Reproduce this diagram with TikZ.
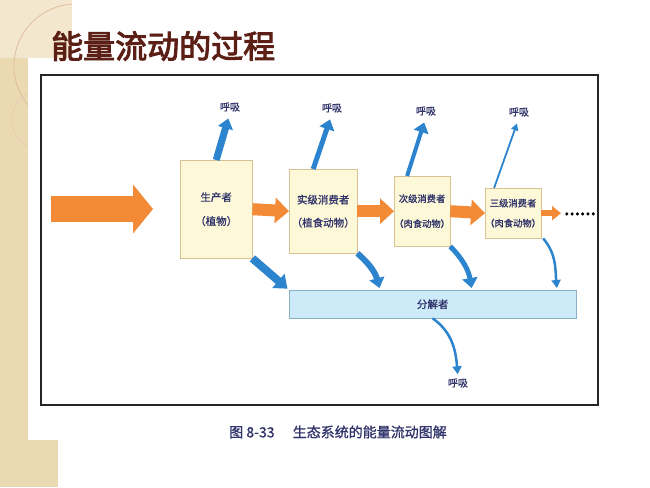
\documentclass[tikz,border=0pt]{standalone}
\usepackage{fontspec}
\setmainfont{Noto Sans CJK SC}
\newfontfamily\cjkbold[FakeBold=3]{Noto Sans CJK SC}
\newfontfamily\cjkmed[FakeBold=1]{Noto Sans CJK SC}
\usetikzlibrary{arrows.meta}
\definecolor{flowOrange}{HTML}{F28A36}
\definecolor{respBlue}{HTML}{2C84CF}
\definecolor{boxFill}{HTML}{FDF8D8}
\definecolor{boxLine}{HTML}{D8C293}
\definecolor{decoFill}{HTML}{CDEAF8}
\definecolor{decoLine}{HTML}{8AAFC6}
\definecolor{inkBlue}{HTML}{30336A}
\definecolor{titleBrown}{HTML}{5B1F16}
\definecolor{slideBeige}{HTML}{EBD9B2}
\definecolor{slideLight}{HTML}{F3E8CF}

\begin{document}
\begin{tikzpicture}[x=1pt,y=-1pt]
  \tikzstyle{LevelNode}=[rectangle,draw=boxLine,fill=boxFill,align=center,inner sep=0pt,anchor=north west,text=inkBlue]
  \tikzstyle{RespNode}=[text=inkBlue,font=\cjkmed\fontsize{10}{12}\selectfont,inner sep=1pt]
  \tikzstyle{flow}=[draw=flowOrange,line width=12,-{Triangle[length=14pt,width=25pt]}]
  \tikzstyle{resp}=[draw=respBlue,-{Triangle[length=10pt,width=15pt]},shorten >=6pt]

  \useasboundingbox (0,0) rectangle (650,487);
  \fill[white] (0,0) rectangle (650,487);

  % slide
  \fill[slideBeige] (0,0) rectangle (28,487);
  \fill[slideLight] (0,0) rectangle (72,58);
  \fill[slideBeige] (0,440) rectangle (58,487);
  \begin{scope}
    \clip (0,0) rectangle (28,487) (0,0) rectangle (72,58);
    \draw[brown!50,line width=0.8] (76,66) circle (62);
    \draw[brown!40,line width=0.8] (42,120) circle (30);
  \end{scope}
  \fill[white] (28,58) rectangle (650,440);
  \node[anchor=west,text=titleBrown,font=\cjkbold\fontsize{32}{34}\selectfont,inner sep=0pt] (title) at (51,46) {能量流动的过程};
  \draw[line width=1.6,black!85] (41,75) rectangle (598,405);

  % levels
  \node[LevelNode,minimum width=72,minimum height=98,font=\cjkmed\fontsize{10.5}{24}\selectfont] (prod) at (180,160) {生产者\\（植物）};
  \node[LevelNode,minimum width=68,minimum height=84,font=\cjkmed\fontsize{10.5}{23}\selectfont] (cons1) at (289,169) {实级消费者\\（植食动物）};
  \node[LevelNode,minimum width=55,minimum height=70,font=\cjkmed\fontsize{9.3}{25}\selectfont] (cons2) at (394,176) {次级消费者\\（肉食动物）};
  \node[LevelNode,minimum width=54,minimum height=50,font=\cjkmed\fontsize{9.3}{20}\selectfont] (cons3) at (485,188) {三级消费者\\（肉食动物）};
  \node[rectangle,draw=decoLine,fill=decoFill,anchor=north west,minimum width=287,minimum height=28,inner sep=0pt,text=inkBlue,font=\cjkmed\fontsize{10.5}{12}\selectfont] (decomp) at (289,290) {分解者};
  \node[anchor=base west,inner sep=0pt,font=\cjkbold\fontsize{19}{19}\selectfont] (more) at (564,215) {......};

  % respiration
  \node[RespNode] (resp1) at (230,107) {呼吸};
  \node[RespNode] (resp2) at (332,108) {呼吸};
  \node[RespNode] (resp3) at (426,111) {呼吸};
  \node[RespNode] (resp4) at (519,112) {呼吸};
  \node[RespNode] (resp5) at (458,383) {呼吸};

  \node[text=inkBlue,font=\cjkmed\fontsize{14}{16}\selectfont] (caption) at (338,432) {图 8-33\hspace{1.3em}生态系统的能量流动图解};

  % edges
  \coordinate (sun) at (51,209);
  \coordinate (suntip) at (153,209);
  \draw[draw=flowOrange,line width=26,-{Triangle[length=20pt,width=48pt]}] (sun) -- (suntip);
  \draw[flow] (prod.east) -- (cons1.west);
  \draw[flow] (cons1.east) -- (cons2.west);
  \draw[flow] (cons2.east) -- (cons3.west);
  \draw[draw=flowOrange,line width=6,-{Triangle[length=9pt,width=14pt]}] (cons3.east) -- ([xshift=-3pt]more.west |- cons3.east);

  \draw[resp,line width=7] (prod.north) -- (resp1.south);
  \draw[resp,line width=5] ([xshift=-10pt]cons1.north) -- (resp2.south);
  \draw[resp,line width=4] ([xshift=-15pt]cons2.north) -- (resp3.south);
  \draw[resp,line width=1.8,-{Triangle[length=7pt,width=7pt]}] ([xshift=-19pt]cons3.north) -- (resp4.south);

  \draw[resp,line width=8,shorten >=2pt,-{Triangle[length=12pt,width=18pt]}] (prod.south east) -- (decomp.north west);
  \draw[resp,line width=6,shorten >=2pt] (cons1.south east) to[out=-40,in=105] ([xshift=91pt]decomp.north west);
  \draw[resp,line width=5,shorten >=2pt] (cons2.south east) to[out=-45,in=100] ([xshift=183pt]decomp.north west);
  \draw[resp,line width=2.5,shorten >=2pt,-{Triangle[length=8pt,width=9pt]}] ([xshift=2pt]cons3.south east) to[out=-50,in=95] ([xshift=268pt]decomp.north west);
  \draw[resp,line width=2.5,shorten >=3pt,-{Triangle[length=8pt,width=9pt]}] (decomp.south) to[out=-35,in=95] (resp5.north);

\end{tikzpicture}
\end{document}
